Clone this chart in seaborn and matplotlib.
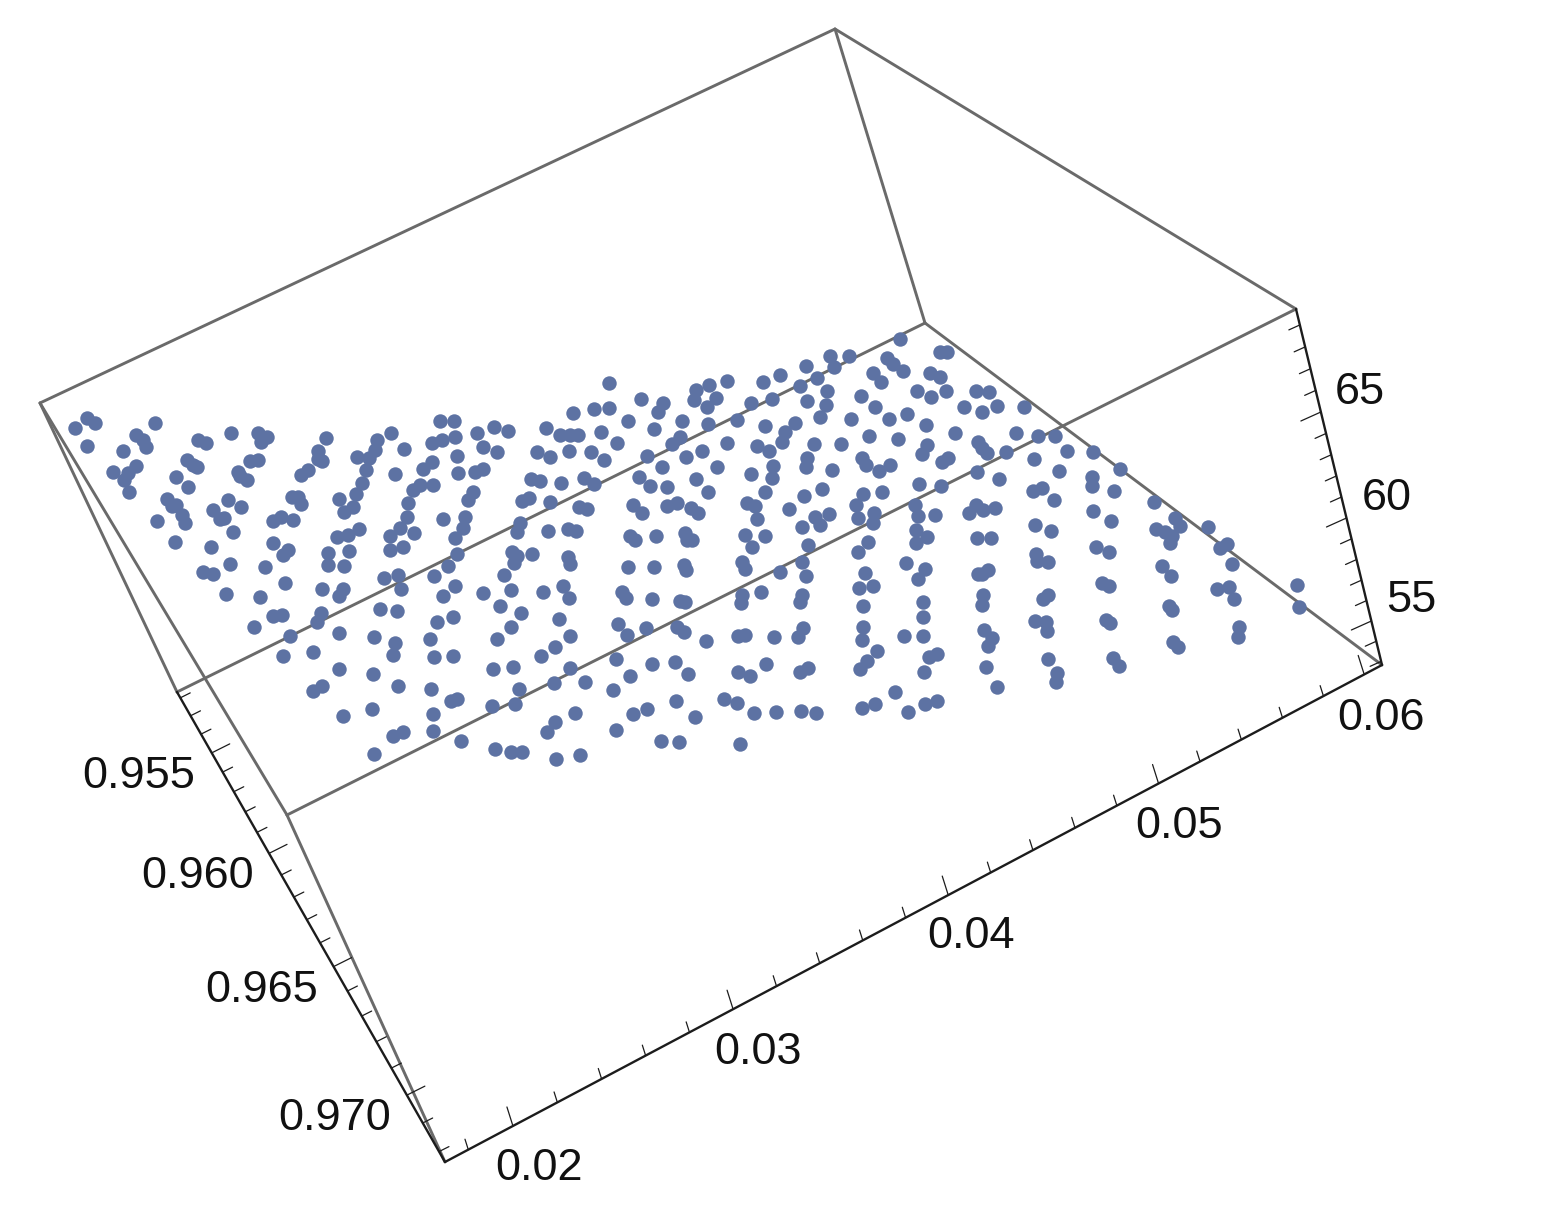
import numpy as np
import matplotlib
matplotlib.use('Agg')
import matplotlib.pyplot as plt
import seaborn as sns

# Point positions as seen in the projected picture, read region by region.
# Each region has its own origin, readings are at 3x.
left_origin = (50, 390)
left_pts = [(75,115),(110,85),(135,100),(110,168),(315,100),(258,135),(278,150),(288,170),(220,183),(190,247),
            (258,227),(235,250),(222,270),(237,307),(445,150),(468,158),(543,130),(625,130),(650,140),(632,155),
            (412,210),(428,225),(442,232),(377,262),(413,292),(350,328),(365,348),(378,345),(395,375),(405,398),
            (320,392),(375,455),(535,330),(572,352),(490,360),(510,388),(522,385),(550,426),(484,472),(540,522),
            (460,545),(490,552),(527,612),(565,245),(590,270),(570,258),(600,212),(625,210),(745,322),(752,342),
            (725,322),(670,392),(692,382),(728,390),(670,460),(715,480),(700,495),(645,532),(705,580),(630,622),
            (668,678),(697,675),(613,712),(720,738),(700,797),(790,786),(868,730),(868,838),(972,742),(968,852),
            (815,598),(878,597),(868,618),(812,670),(802,695),(835,490),(835,525),(882,528),(860,442),(895,435),
            (928,417),(897,482),(868,327),(882,365),(908,350),(918,312),(935,280),(827,145),(803,183),(803,208),
            (815,212),(775,240),(752,255),(920,200),(958,205),(948,240),(980,150),(975,180)]

upper_mid_origin = (300, 390)
upper_mid_pts = [(272,128),(313,177),(285,253),(420,92),(463,92),(465,142),(425,150),(395,160),(530,128),(582,112),
                 (625,122),(738,114),(550,170),(590,187),(712,187),(750,202),(470,197),(395,215),(370,237),(473,248),
                 (525,247),(550,237),(692,267),(720,272),(400,285),(360,285),(340,300),(520,305),(505,330),(325,340),
                 (665,332),(688,325),(750,337),(322,382),(428,386),(495,380),(490,415),(300,413),(343,428),(270,438),
                 (465,445),(270,480),(310,472),(660,400),(652,425),(745,422),(637,487),(650,497),(642,520),(697,492),
                 (472,492),(445,527),(403,558),(253,565),(295,555),(612,555)]

lower_mid_origin = (280, 570)
lower_mid_pts = [(362,58),(525,48),(488,77),(608,70),(692,60),(788,65),(850,47),(866,85),(300,117),(350,122),
                 (470,157),(518,142),(660,107),(723,130),(838,147),(692,172),(450,207),(650,207),(870,197),(345,218),
                 (340,255),(462,262),(520,257),(825,232),(782,257),(638,296),(698,291),(870,295),(822,340),(353,347),
                 (454,357),(717,357),(512,392),(532,387),(705,403),(637,408),(275,417),(460,432),(885,430),(825,457),
                 (800,487),(458,482),(370,487),(340,497),(543,512),(282,552),(645,537),(692,547),(725,547),(827,567),
                 (190,437),(100,362),(125,347)]

upper_center_origin = (550, 370)
upper_center_pts = [(177,40),(272,88),(133,117),(178,114),(70,130),(235,152),(340,100),(325,125),(437,60),(432,90),
                    (478,44),(532,34),(497,85),(472,112),(638,37),(690,15),(750,47),(770,92),(667,88),(602,100),
                    (397,152),(313,177),(475,162),(562,150),(645,167),(735,160),(705,187),(695,215),(30,195),(60,195),
                    (85,195),(153,187),(202,220),(57,242),(123,247),(163,270),(390,200),(365,222),(292,257),(455,242),
                    (530,220),(620,227),(658,242),(408,262),(335,292),(500,292),(670,287),(770,265),(768,290),(603,312),
                    (665,325),(267,320),(300,347),(350,352),(437,327),(475,367),(645,365),(762,377),(33,338),(103,325),
                    (133,342),(88,410),(110,418),(250,405),(275,428),(350,408),(382,398),(423,415),(445,430),(590,400),
                    (615,408),(622,447),(718,417),(53,477),(77,482),(240,497),(255,510),(317,497),(405,490),(425,510),
                    (410,510),(585,494),(645,497),(605,532),(755,472),(55,560),(60,583),(235,590),(313,590),(403,585),
                    (575,575),(585,597),(755,575),(775,525)]

lower_center_origin = (570, 560)
lower_center_pts = [(348,30),(630,37),(707,47),(155,95),(168,115),(247,117),(330,122),(345,125),(515,105),(513,130),
                    (572,97),(695,105),(690,125),(143,192),(170,225),(228,205),(320,202),(343,217),(408,242),(505,227),
                    (525,225),(612,230),(700,205),(685,230),(137,297),(247,312),(316,307),(180,347),(355,342),(505,335),
                    (540,347),(587,313),(690,335),(715,325),(45,367),(130,390),(318,422),(190,462),(232,447),(375,472),
                    (462,416),(502,430),(552,458),(617,455),(692,452),(737,458),(137,510),(273,542),(327,545),(510,552),
                    (30,585)]

upper_right_origin = (790, 340)
upper_right_pts = [(330,-2),(450,37),(472,37),(120,48),(178,48),(47,77),(132,80),(290,55),(310,72),(338,92),
                   (248,100),(273,125),(420,100),(450,112),(82,115),(110,152),(213,167),(382,152),(467,152),(557,152),
                   (597,155),(422,172),(620,197),(522,202),(577,217),(702,202),(108,195),(90,232),(255,202),(297,237),
                   (352,222),(182,238),(407,255),(237,287),(323,296),(495,280),(677,280),(565,305),(577,325),(592,338),
                   (72,312),(152,312),(412,315),(397,342),(473,355),(455,365),(647,337),(215,355),(228,375),(300,375),
                   (268,392),(127,390),(562,397),(628,417),(388,432),(452,438),(95,447),(277,457),(218,463),(75,530),
                   (117,522),(90,555)]

lower_right_origin = (850, 500)
lower_right_pts = [(17,15),(72,40),(25,55),(68,70),(195,15),(205,47),(255,45),(357,40),(378,15),(398,30),
                   (435,23),(198,90),(232,112),(198,130),(380,115),(422,115),(55,127),(25,157),(167,190),(225,207),
                   (205,237),(415,210),(395,222),(385,222),(45,220),(28,265),(68,257),(218,305),(400,285),(395,315),
                   (38,317),(218,350),(40,380),(35,420),(162,407),(218,407),(402,390),(425,413),(413,437),(80,452),
                   (50,482),(30,507),(260,462),(237,472),(222,517),(407,502),(440,562),(135,575),(262,602),(225,613),
                   (75,612),(37,625),(175,635)]

far_right_origin = (1030, 430)
far_right_pts = [(25,18),(75,18),(110,63),(190,67),(270,117),(12,88),(87,123),(185,140),(185,168),(252,182),
                 (35,173),(10,182),(72,210),(373,215),(190,242),(242,272),(15,285),(62,302),(435,265),(450,287),
                 (378,297),(405,305),(425,318),(420,338),(533,292),(590,342),(570,353),(607,402),(198,350),(237,367),
                 (18,372),(22,392),(55,397),(395,407),(422,437),(215,460),(237,467),(53,495),(38,508),(560,476),
                 (597,470),(613,507),(802,466),(806,532),(418,527),(425,540),(228,570),(240,578),(15,572),(47,575),
                 (52,603),(627,590),(625,620),(430,637),(445,652),(53,688),(248,685),(268,708),(80,728),(77,755)]

regions = [(left_origin, left_pts), (upper_mid_origin, upper_mid_pts), (lower_mid_origin, lower_mid_pts),
           (upper_center_origin, upper_center_pts), (lower_center_origin, lower_center_pts),
           (upper_right_origin, upper_right_pts), (lower_right_origin, lower_right_pts),
           (far_right_origin, far_right_pts)]

# Box corners in the picture
corner_a = (40, 403)
corner_b = (835, 29)
corner_c = (1296, 309)
corner_d = (925, 323)
corner_e = (177, 692)
corner_f = (287, 815)
corner_g = (445, 1162)
corner_h = (1382, 665)

gray_edges = [(corner_a, corner_b), (corner_b, corner_c), (corner_b, corner_d), (corner_d, corner_h),
              (corner_d, corner_e), (corner_c, corner_f), (corner_a, corner_e), (corner_a, corner_f),
              (corner_f, corner_g)]
black_edges = [(corner_e, corner_g), (corner_g, corner_h), (corner_c, corner_h)]

# Axes: where the major ticks land along each axis
x_major = [0.02, 0.03, 0.04, 0.05, 0.06]
x_major_screen = [512, 735, 948, 1157, 1365]
x_ticks = np.arange(18, 61, 2) / 1000
y_major = [0.955, 0.960, 0.965, 0.970]
y_major_screen = [753, 853, 967, 1095]
y_ticks = np.arange(952, 973) / 1000
z_major = [55, 60, 65]
z_major_screen = [621, 518, 412]
z_ticks = np.arange(53, 70)

x_labels = ['0.02', '0.03', '0.04', '0.05', '0.06']
x_label_pos = [(539, 1168), (758, 1052), (971, 937), (1179, 827), (1381, 719)]
y_labels = ['0.955', '0.960', '0.965', '0.970']
y_label_pos = [(139, 777), (198, 877), (262, 990), (335, 1118)]
z_labels = ['55', '60', '65']
z_label_pos = [(1411, 600), (1387, 499), (1360, 392)]


def axis_scale(values, screen):
    # perspective along a straight edge: s = (a v + b) / (c v + 1)
    values = np.array(values, dtype=float)
    screen = np.array(screen, dtype=float)
    mat = np.column_stack([values, np.ones(len(values)), -values * screen])
    a, b, c = np.linalg.lstsq(mat, screen, rcond=None)[0]
    return lambda v: (a * np.asarray(v) + b) / (c * np.asarray(v) + 1)


sns.set_theme(style='white')
plt.rcParams['font.family'] = ['Liberation Sans', 'DejaVu Sans']

fig = plt.figure(figsize=(15.52, 12.2), dpi=100)
ax = fig.add_axes([0, 0, 1, 1])

for p, q in gray_edges:
    ax.plot([p[0], q[0]], [p[1], q[1]], color='#6a6a6a', lw=2.1, zorder=1, solid_capstyle='round')
for p, q in black_edges:
    ax.plot([p[0], q[0]], [p[1], q[1]], color='#1c1c1c', lw=1.7, zorder=2, solid_capstyle='round')


def draw_ticks(ticks, major, scale, along_x, start, end, tick_dir):
    slope = (end[1] - start[1]) / (end[0] - start[0])
    for v in ticks:
        s = float(scale(v))
        if along_x:
            bx, by = s, start[1] + (s - start[0]) * slope
        else:
            bx, by = start[0] + (s - start[1]) / slope, s
        is_major = any(abs(v - m) < 1e-6 for m in major)
        f = 1.0 if is_major else 0.55
        ax.plot([bx, bx + tick_dir[0] * f], [by, by + tick_dir[1] * f], color='#1c1c1c', lw=0.9, zorder=2)


draw_ticks(x_ticks, x_major, axis_scale(x_major, x_major_screen), True, corner_g, corner_h, (-6, -19))
draw_ticks(y_ticks, y_major, axis_scale(y_major, y_major_screen), False, corner_e, corner_g, (18, -9))
draw_ticks(z_ticks, z_major, axis_scale(z_major, z_major_screen), False, corner_h, corner_c, (-20, 9))

pts_x = np.concatenate([[o[0] + p[0] / 3 for p in pts] for o, pts in regions])
pts_y = np.concatenate([[o[1] + p[1] / 3 for p in pts] for o, pts in regions])
sns.scatterplot(x=pts_x, y=pts_y, color='#5d72a3', s=108, linewidth=0, ax=ax, zorder=3)

for labels, positions in [(x_labels, x_label_pos), (y_labels, y_label_pos), (z_labels, z_label_pos)]:
    for lab, pos in zip(labels, positions):
        ax.text(pos[0], pos[1], lab, fontsize=32.5, color='#111111', ha='center', va='center')

ax.set_xlim(0, 1552)
ax.set_ylim(1220, 0)
ax.axis('off')

plt.savefig('out.png', dpi=100)
